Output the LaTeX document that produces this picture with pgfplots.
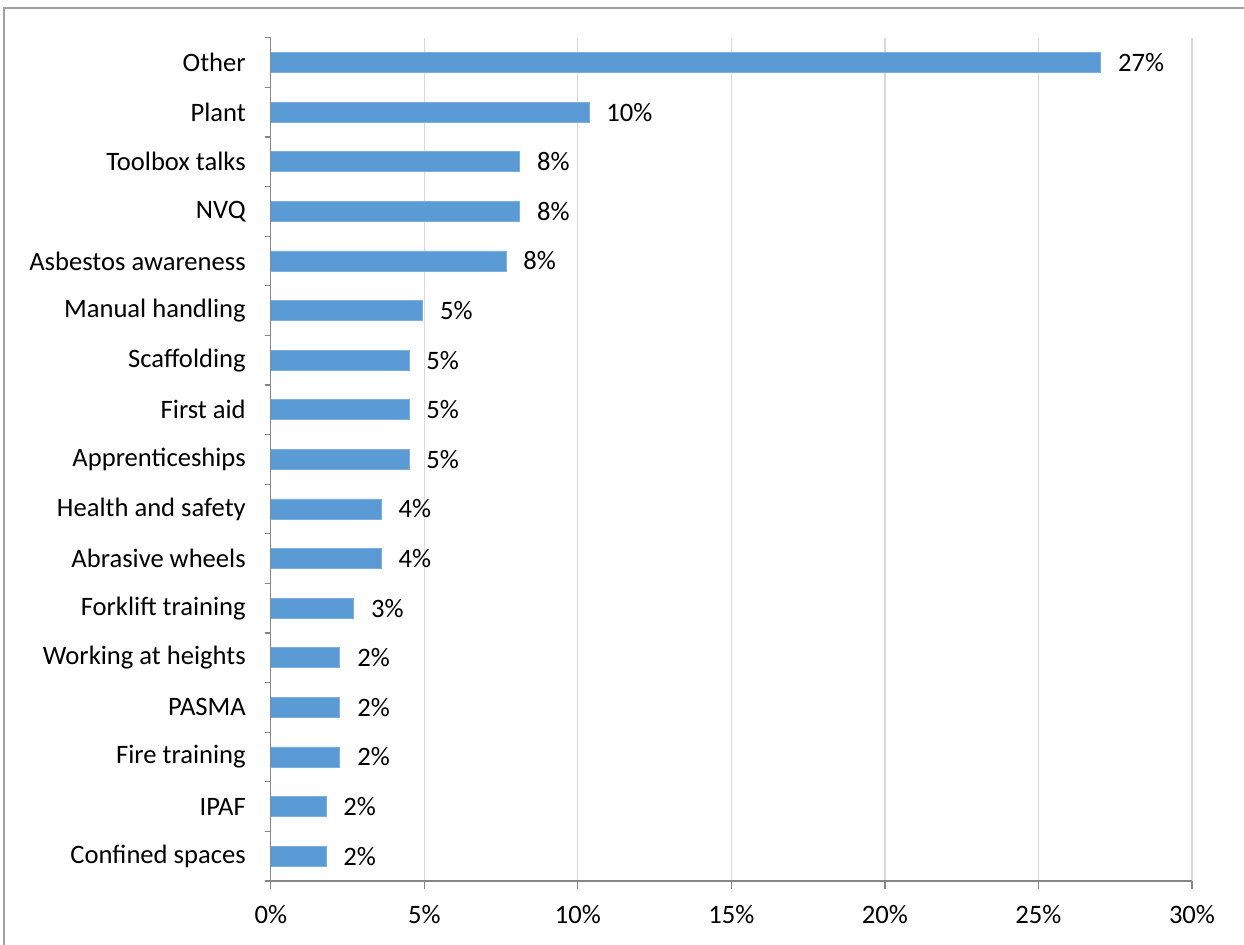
\documentclass[border=0pt]{standalone}
\usepackage{fontspec}
\setmainfont{Carlito}
\usepackage{pgfplots}
\pgfplotsset{compat=1.18}
\definecolor{barblue}{HTML}{5B9BD5}
\definecolor{gridgray}{HTML}{D9D9D9}
\definecolor{axgray}{HTML}{868686}
\definecolor{framegray}{HTML}{A0A0A0}
\newcommand{\lblfont}{\fontsize{13.3}{16}\selectfont}

\begin{document}
\begin{tikzpicture}
% page = 1244 x 945 px at 0.5pt per px, axis south west at (0,0)
\useasboundingbox (-135.4pt,-32pt) rectangle (486.6pt,440.5pt);
\draw[framegray, line width=0.8pt] (-133.4pt,-40pt) -- (-133.4pt,436.5pt) -- (500pt,436.5pt);
\begin{axis}[
  scale only axis, width=460.6pt, height=421.65pt,
  xbar, bar width=10pt,
  xmin=0, xmax=30, ymin=-0.5, ymax=16.5, y dir=reverse,
  axis x line*=bottom, axis y line*=left,
  axis line style={axgray, line width=0.6pt},
  /pgf/number format/assume math mode=true,
  xtick={0,5,...,30},
  xticklabel={\pgfmathprintnumber{\tick}\%},
  xmajorgrids, grid style={gridgray, line width=0.6pt},
  tick align=outside,
  major tick length=4pt, minor tick length=3pt,
  x tick style={axgray, line width=0.6pt},
  ytick={0,...,16},
  y tick style={draw=none},
  minor ytick={-0.5,0.5,...,16.5},
  minor y tick style={draw=axgray, line width=0.6pt},
  yticklabels={Other,Plant,Toolbox talks,NVQ,Asbestos awareness,Manual handling,Scaffolding,First aid,Apprenticeships,Health and safety,Abrasive wheels,Forklift training,Working at heights,PASMA,Fire training,IPAF,Confined spaces},
  xticklabel style={font=\lblfont, yshift=-4.5pt},
  yticklabel style={font=\lblfont, xshift=-5pt},
  point meta=x,
  nodes near coords={\pgfmathprintnumber[fixed,precision=0]{\pgfplotspointmeta}\%},
  nodes near coords style={anchor=west, inner sep=0pt, xshift=8.5pt, font=\lblfont, black},
]
\addplot[fill=barblue, draw=barblue!80!white] coordinates {
  (27.03,0)
  (10.36,1)
  (8.11,2)
  (8.11,3)
  (7.66,4)
  (4.95,5)
  (4.50,6)
  (4.50,7)
  (4.50,8)
  (3.60,9)
  (3.60,10)
  (2.70,11)
  (2.25,12)
  (2.25,13)
  (2.25,14)
  (1.80,15)
  (1.80,16)
};
\end{axis}
\end{tikzpicture}
\end{document}
